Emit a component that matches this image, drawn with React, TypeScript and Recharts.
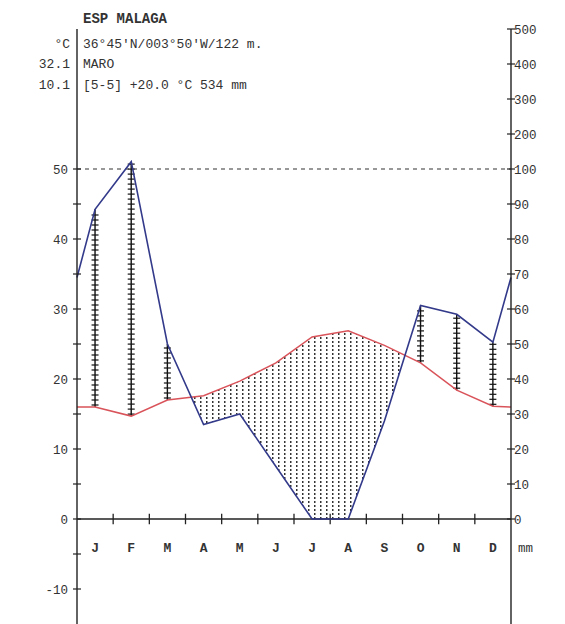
import React from "react";
import {
  ComposedChart,
  Area,
  Bar,
  Line,
  XAxis,
  YAxis,
  ReferenceLine,
  ReferenceDot,
} from "recharts";

// monthly values
const months = ["J", "F", "M", "A", "M", "J", "J", "A", "S", "O", "N", "D"];
const tempC = [16.0, 14.7, 17.0, 17.6, 19.7, 22.3, 26.0, 26.9, 24.8, 22.3, 18.4, 16.1];
const precipMm = [88.5, 121, 50, 27, 30, 15, 0, 0, 28, 61, 58.5, 50.5];
// values drawn at the left/right frame edges
const edgeTemp = 16.0;
const edgePrecip = 69;

const tempTicks = [-10, -5, 0, 5, 10, 15, 20, 25, 30, 35, 40, 45, 50];
const mmTicks = [0, 10, 20, 30, 40, 50, 60, 70, 80, 90, 100, 200, 300, 400, 500];

const FONT = "'Liberation Mono', 'DejaVu Sans Mono', monospace";
const INK = "#222";

// Walter-Lieth scale: 10 °C = 20 mm, above 100 mm compressed 10x
const toEq = (mm: number) => (mm <= 100 ? mm / 2 : 50 + (mm - 100) / 20);

const row = (x: number, t: number, p: number) => {
  const pe = toEq(p);
  return { x, temp: t, precip: pe, humid: pe > t && x > 0 && x < 12 ? [t, pe] : null };
};

const data = [
  row(0, edgeTemp, edgePrecip),
  ...months.map((_, i) => row(i + 0.5, tempC[i], precipMm[i])),
  row(12, edgeTemp, edgePrecip),
];

const LeftTick = (props: any) => {
  const { x, y, payload } = props;
  const v = payload.value;
  return (
    <g>
      <line x1={x + 4} x2={x + 12} y1={y} y2={y} stroke={INK} strokeWidth={1.2} />
      {v % 10 === 0 && (
        <text x={x - 1} y={y} dy={4.5} textAnchor="end" fontSize={12.5} fontFamily={FONT} fill="#333">
          {v}
        </text>
      )}
    </g>
  );
};

const RightTick = (props: any) => {
  const { x, y, payload, index } = props;
  return (
    <g>
      <line x1={x - 12} x2={x - 4} y1={y} y2={y} stroke={INK} strokeWidth={1.2} />
      <text x={x - 5} y={y} dy={4.5} textAnchor="start" fontSize={12.5} fontFamily={FONT} fill="#333">
        {mmTicks[index] ?? payload.value}
      </text>
    </g>
  );
};

const HumidShape = (props: any) => {
  const { x, y, width, height } = props;
  if (height == null || isNaN(y)) return null;
  const cx = x + width / 2;
  const top = Math.min(y, y + height);
  const bottom = Math.max(y, y + height);
  const marks = [];
  for (let yy = bottom - 2; yy > top + 1; yy -= 5) {
    marks.push(<line key={yy} x1={cx - 3.5} x2={cx + 3.5} y1={yy} y2={yy} stroke="#111" strokeWidth={1.2} />);
  }
  return (
    <g>
      <line x1={cx} x2={cx} y1={top} y2={bottom} stroke="#111" strokeWidth={1.4} />
      {marks}
    </g>
  );
};

const headerStyle: React.CSSProperties = {
  position: "absolute",
  fontFamily: FONT,
  fontSize: 13,
  color: "#333",
  whiteSpace: "pre",
  lineHeight: "14px",
};

export default function App() {
  return (
    <div style={{ position: "absolute", left: 0, top: 0, width: 565, height: 624, background: "#fff", overflow: "hidden" }}>
      <ComposedChart width={565} height={624} data={data} margin={{ top: 29, right: 0, bottom: 0, left: 0 }}>
        <defs>
          <pattern id="dots" width={6} height={4} patternUnits="userSpaceOnUse">
            <rect x={2} y={1} width={1.5} height={2} fill="#333" />
          </pattern>
        </defs>
        <XAxis dataKey="x" type="number" domain={[0, 12]} hide />
        <YAxis
          yAxisId="t"
          orientation="left"
          width={77}
          domain={[-15, 70]}
          allowDataOverflow
          ticks={tempTicks}
          interval={0}
          tickLine={false}
          tickSize={4}
          tickMargin={4}
          axisLine={{ stroke: INK, strokeWidth: 1.4 }}
          tick={<LeftTick />}
        />
        <YAxis
          yAxisId="p"
          orientation="right"
          width={54}
          domain={[-15, 70]}
          allowDataOverflow
          ticks={mmTicks.map(toEq)}
          interval={0}
          tickLine={false}
          tickSize={4}
          tickMargin={4}
          axisLine={{ stroke: INK, strokeWidth: 1.4 }}
          tick={<RightTick />}
        />
        <Area yAxisId="t" type="linear" dataKey="temp" baseValue={0} stroke="none" fill="url(#dots)" fillOpacity={1} isAnimationActive={false} />
        <Area yAxisId="t" type="linear" dataKey="precip" baseValue={0} stroke="none" fill="#fff" fillOpacity={1} isAnimationActive={false} />
        <ReferenceLine yAxisId="t" y={50} stroke="#333" strokeDasharray="4 4" strokeWidth={1.2} />
        <ReferenceLine yAxisId="t" y={0} stroke={INK} strokeWidth={1.6} />
        {months.slice(1).map((_, i) => (
          <ReferenceLine
            key={"mt" + i}
            yAxisId="t"
            segment={[{ x: i + 1, y: -0.75 }, { x: i + 1, y: 0.75 }]}
            stroke={INK}
            strokeWidth={1.3}
          />
        ))}
        {months.map((m, i) => (
          <ReferenceDot
            key={"ml" + i}
            yAxisId="t"
            x={i + 0.5}
            y={-4.1}
            r={1}
            fill="none"
            stroke="none"
            label={{ value: m, position: "center", fontSize: 13, fontFamily: FONT, fill: "#333", fontWeight: 700 }}
          />
        ))}
        <ReferenceDot
          yAxisId="t"
          x={12}
          y={-4.1}
          r={1}
          fill="none"
          stroke="none"
          label={{ value: "mm", position: "right", offset: 6, fontSize: 12.5, fontFamily: FONT, fill: "#333" }}
        />
        <Bar yAxisId="t" dataKey="humid" barSize={8} shape={<HumidShape />} isAnimationActive={false} />
        <Line yAxisId="t" type="linear" dataKey="temp" stroke="#d9535a" strokeWidth={1.5} dot={false} isAnimationActive={false} />
        <Line yAxisId="t" type="linear" dataKey="precip" stroke="#333a8a" strokeWidth={1.6} dot={false} isAnimationActive={false} />
      </ComposedChart>
      <div style={{ ...headerStyle, left: 83, top: 12, fontWeight: 700, fontSize: 14 }}>ESP MALAGA</div>
      <div style={{ ...headerStyle, left: 30, top: 38, width: 40, textAlign: "right" }}>°C</div>
      <div style={{ ...headerStyle, left: 83, top: 38 }}>36°45'N/003°50'W/122 m.</div>
      <div style={{ ...headerStyle, left: 20, top: 58, width: 50, textAlign: "right" }}>32.1</div>
      <div style={{ ...headerStyle, left: 83, top: 58 }}>MARO</div>
      <div style={{ ...headerStyle, left: 20, top: 79, width: 50, textAlign: "right" }}>10.1</div>
      <div style={{ ...headerStyle, left: 83, top: 79 }}>[5-5] +20.0 °C 534 mm</div>
    </div>
  );
}
